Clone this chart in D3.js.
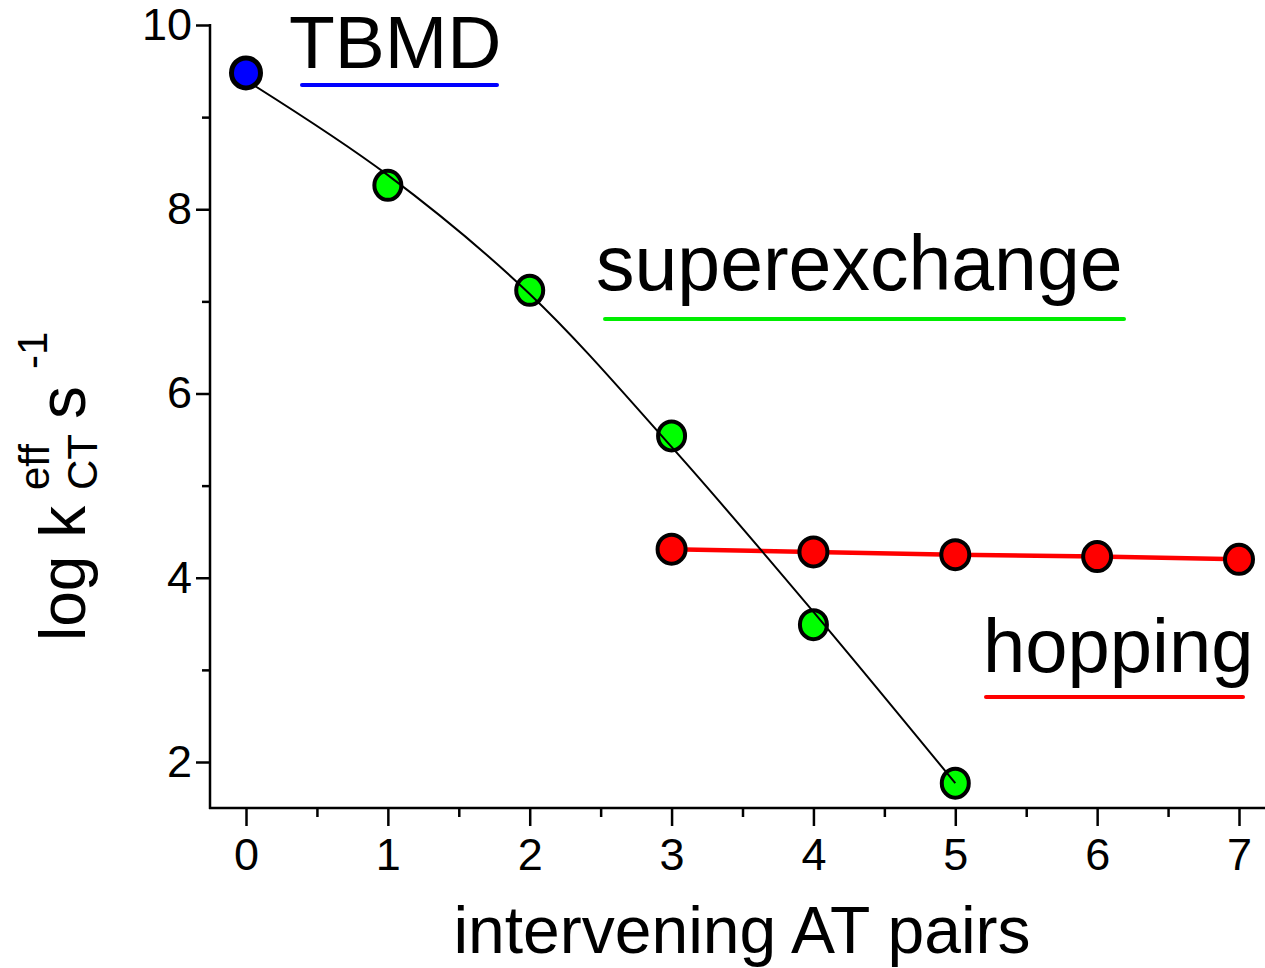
<!DOCTYPE html>
<html>
<head>
<meta charset="utf-8">
<script src="https://cdn.jsdelivr.net/npm/d3@7"></script>
<style>
  html, body { margin: 0; padding: 0; background: #fff; }
  svg { display: block; font-family: "Liberation Sans", Arial, sans-serif; }
</style>
</head>
<body>
<div id="chart"></div>
<script>
// data
const blueX = [0];
const blueY = [9.48];
const greenX = [1, 2, 3, 4, 5];
const greenY = [8.26, 7.12, 5.54, 3.49, 1.77];
const redX = [3, 4, 5, 6, 7];
const redY = [4.31, 4.28, 4.25, 4.23, 4.20];
const fitX = [0, 1, 2, 3, 4, 5];
const fitY = [9.40, 8.37, 7.08, 5.42, 3.63, 1.77];
const xMajor = [0, 1, 2, 3, 4, 5, 6, 7];
const xMinor = [-0.5, 0.5, 1.5, 2.5, 3.5, 4.5, 5.5, 6.5];
const yMajor = [2, 4, 6, 8, 10];
const yMinor = [3, 5, 7, 9];

const W = 1265, H = 968;
const svg = d3.select('#chart').append('svg')
  .attr('width', W).attr('height', H);

const x = d3.scaleLinear().domain([0, 7]).range([246, 1239]);
const y = d3.scaleLinear().domain([2, 10]).range([762, 25]);
const axisLeftX = 210, axisBottomY = 808;

// axis lines
svg.append('line')
  .attr('x1', axisLeftX).attr('x2', axisLeftX)
  .attr('y1', y(10) - 1).attr('y2', axisBottomY + 1)
  .attr('stroke', '#000').attr('stroke-width', 2.5);
svg.append('line')
  .attr('x1', axisLeftX - 1).attr('x2', W)
  .attr('y1', axisBottomY).attr('y2', axisBottomY)
  .attr('stroke', '#000').attr('stroke-width', 2.5);

// bottom axis
const gx = svg.append('g').attr('transform', `translate(0,${axisBottomY})`)
  .call(d3.axisBottom(x).tickValues(xMajor).tickSize(18).tickPadding(12).tickFormat(d3.format('d')));
const gxm = svg.append('g').attr('transform', `translate(0,${axisBottomY})`)
  .call(d3.axisBottom(x).tickValues(xMinor.filter(v => x(v) > axisLeftX)).tickSize(9).tickFormat(''));

// left axis
const gy = svg.append('g').attr('transform', `translate(${axisLeftX},0)`)
  .call(d3.axisLeft(y).tickValues(yMajor).tickSize(14).tickPadding(4).tickFormat(d3.format('d')));
const gym = svg.append('g').attr('transform', `translate(${axisLeftX},0)`)
  .call(d3.axisLeft(y).tickValues(yMinor).tickSize(8).tickFormat(''));

[gx, gxm, gy, gym].forEach(g => {
  g.select('.domain').remove();
  g.selectAll('line').attr('stroke', '#000').attr('stroke-width', 2.5);
  g.selectAll('text')
    .attr('fill', '#000')
    .style('font-family', '"Liberation Sans", Arial, sans-serif')
    .style('font-size', '45px');
});
gx.selectAll('text').attr('dy', '0.72em');

// axis titles
svg.append('text')
  .attr('x', 742).attr('y', 953)
  .attr('text-anchor', 'middle')
  .style('font-size', '66px')
  .text('intervening AT pairs');

const yt = svg.append('g').attr('transform', 'translate(85,641) rotate(-90)');
yt.append('text').attr('x', 0).attr('y', 0).style('font-size', '64px').text('log k');
yt.append('text').attr('x', 151).attr('y', -36).style('font-size', '42px').text('eff');
yt.append('text').attr('x', 151).attr('y', 12).style('font-size', '42px').text('CT');
yt.append('text').attr('x', 222).attr('y', 0).style('font-size', '66px').text('s');
yt.append('text').attr('x', 272).attr('y', -38).style('font-size', '42px').text('-1');

// red hopping line + markers
const redPts = redX.map((v, i) => [v, redY[i]]);
svg.append('path')
  .datum(redPts)
  .attr('fill', 'none').attr('stroke', '#ff0000').attr('stroke-width', 4.5)
  .attr('d', d3.line().x(d => x(d[0])).y(d => y(d[1])));

// green markers (curve drawn over them)
const greenPts = greenX.map((v, i) => [v, greenY[i]]);
svg.selectAll('.green').data(greenPts).enter().append('ellipse')
  .attr('cx', d => x(d[0])).attr('cy', d => y(d[1]))
  .attr('rx', 13.5).attr('ry', 14.5)
  .attr('fill', '#00ff00').attr('stroke', '#000').attr('stroke-width', 4);

// fitted curve
const fitPts = fitX.map((v, i) => [v, fitY[i]]);
svg.append('path')
  .datum(fitPts)
  .attr('fill', 'none').attr('stroke', '#000').attr('stroke-width', 2)
  .attr('d', d3.line().x(d => x(d[0])).y(d => y(d[1])).curve(d3.curveCatmullRom.alpha(0.5)));

svg.selectAll('.red').data(redPts).enter().append('ellipse')
  .attr('cx', d => x(d[0])).attr('cy', d => y(d[1]))
  .attr('rx', 14).attr('ry', 14.5)
  .attr('fill', '#ff0000').attr('stroke', '#000').attr('stroke-width', 4);

const bluePts = blueX.map((v, i) => [v, blueY[i]]);
svg.selectAll('.blue').data(bluePts).enter().append('ellipse')
  .attr('cx', d => x(d[0])).attr('cy', d => y(d[1]))
  .attr('rx', 14.5).attr('ry', 15)
  .attr('fill', '#0000ff').attr('stroke', '#000').attr('stroke-width', 5);

// region labels with coloured underlines
const labels = [
  { text: 'TBMD', x: 289, y: 68, size: 75, color: '#0000ff', u1: 302, u2: 497, uy: 85 },
  { text: 'superexchange', x: 596, y: 290, size: 77, color: '#00ee00', u1: 605, u2: 1124, uy: 319 },
  { text: 'hopping', x: 983, y: 672, size: 76, color: '#ff0000', u1: 986, u2: 1243, uy: 697 }
];
labels.forEach(l => {
  svg.append('text')
    .attr('x', l.x).attr('y', l.y)
    .style('font-size', l.size + 'px')
    .text(l.text);
  svg.append('line')
    .attr('x1', l.u1).attr('x2', l.u2).attr('y1', l.uy).attr('y2', l.uy)
    .attr('stroke', l.color).attr('stroke-width', 4).attr('stroke-linecap', 'round');
});
</script>
</body>
</html>
